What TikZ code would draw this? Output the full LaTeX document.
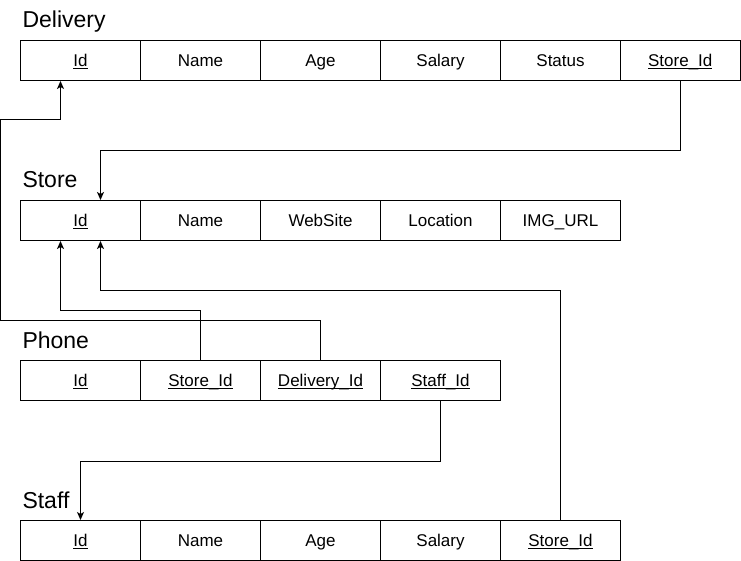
\documentclass[tikz,border=0pt]{standalone}
\usepackage{fontspec}
\setmainfont{Liberation Sans}
\usetikzlibrary{arrows.meta}
\newcommand\keyul[1]{\setbox0\hbox{#1}\rlap{\rule[-2pt]{\wd0}{0.8pt}}\box0}
\begin{document}
\begin{tikzpicture}[x=1pt,y=-1pt,line width=1pt,
  cell/.style={draw, minimum width=120pt, minimum height=40pt, anchor=north west, inner sep=0pt,
    text height=12.2pt, text depth=0pt, font=\fontsize{17}{20}\selectfont},
  title/.style={anchor=base west, inner sep=0pt, font=\fontsize{23}{26}\selectfont},
  fk/.style={-{Stealth[length=8pt,width=7pt,inset=2pt]}, line width=1pt}]
\useasboundingbox (0,0) rectangle (741,561);
% Delivery
\node[title] (tDel) at (22,28) {Delivery};
\node[cell] (dId) at (20,40) {\keyul{Id}};
\node[cell] (dName) at (140,40) {Name};
\node[cell] (dAge) at (260,40) {Age};
\node[cell] (dSal) at (380,40) {Salary};
\node[cell] (dStat) at (500,40) {Status};
\node[cell,minimum width=119.5pt] (dSid) at (620,40) {\keyul{Store\_Id}};
% Store
\node[title] (tSto) at (22,188) {Store};
\node[cell] (sId) at (20,200) {\keyul{Id}};
\node[cell] (sName) at (140,200) {Name};
\node[cell] (sWeb) at (260,200) {WebSite};
\node[cell] (sLoc) at (380,200) {Location};
\node[cell] (sImg) at (500,200) {IMG\_URL};
% Phone
\node[title] (tPho) at (22,348) {Phone};
\node[cell] (pId) at (20,360) {\keyul{Id}};
\node[cell] (pSid) at (140,360) {\keyul{Store\_Id}};
\node[cell] (pDid) at (260,360) {\keyul{Delivery\_Id}};
\node[cell] (pStid) at (380,360) {\keyul{Staff\_Id}};
% Staff
\node[title] (tSta) at (22,508) {Staff};
\node[cell] (stId) at (20,520) {\keyul{Id}};
\node[cell] (stName) at (140,520) {Name};
\node[cell] (stAge) at (260,520) {Age};
\node[cell] (stSal) at (380,520) {Salary};
\node[cell] (stSid) at (500,520) {\keyul{Store\_Id}};
% connectors
\coordinate (leftTurn) at (0.5,120);
\draw[fk] (dSid.south) -- ++(0,70) -| ([xshift=20pt]sId.north);
\draw[fk] (pDid.north) -- ++(0,-40) -| (leftTurn) -| ([xshift=-20pt]dId.south);
\draw[fk] (pSid.north) -- ++(0,-50) -| ([xshift=-20pt]sId.south);
\draw[fk] (stSid.north) -- ++(0,-230) -| ([xshift=20pt]sId.south);
\draw[fk] (pStid.south) -- ++(0,60) -| (stId.north);
\end{tikzpicture}
\end{document}
